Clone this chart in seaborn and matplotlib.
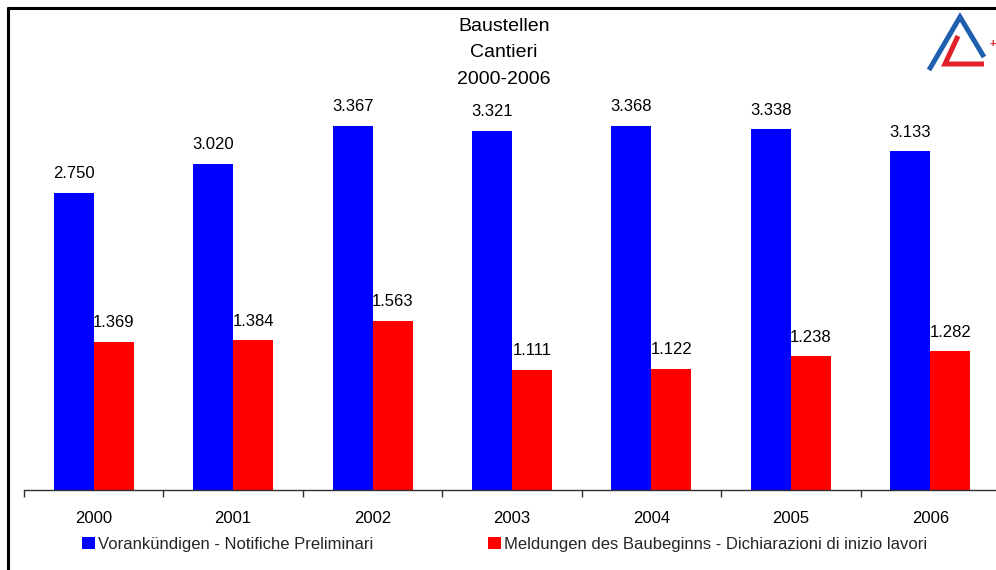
import matplotlib
matplotlib.use("Agg")
import matplotlib.pyplot as plt
from matplotlib.lines import Line2D
import pandas as pd
import seaborn as sns

# ------------------------------------------------------------------ #
# Data                                                                 #
# ------------------------------------------------------------------ #
YEARS = ["2000", "2001", "2002", "2003", "2004", "2005", "2006"]
VORANKUENDIGEN = [2750, 3020, 3367, 3321, 3368, 3338, 3133]
MELDUNGEN = [1369, 1384, 1563, 1111, 1122, 1238, 1282]

SERIES = [
    "Vorankündigen - Notifiche Preliminari",
    "Meldungen des Baubeginns - Dichiarazioni di inizio lavori",
]
COLORS = ["#0000FF", "#FF0000"]
TITLE_LINES = ["Baustellen", "Cantieri", "2000-2006"]

sns.set_theme(style="white")
plt.rcParams["font.family"] = ["Liberation Sans", "DejaVu Sans"]

df = pd.DataFrame({
    "year": YEARS * 2,
    "value": VORANKUENDIGEN + MELDUNGEN,
    "series": [SERIES[0]] * len(YEARS) + [SERIES[1]] * len(YEARS),
})

W, H = 996, 570
fig = plt.figure(figsize=(W / 100, H / 100), dpi=100)
fig.patch.set_facecolor("white")

# axes in pixel terms: left 24, bottom axis line at y=490, top at y=80
ax_left, ax_right, ax_bottom, ax_top = 24, 1000, 490, 80
ax = fig.add_axes([ax_left / W, 1 - ax_bottom / H,
                   (ax_right - ax_left) / W, (ax_bottom - ax_top) / H])

sns.barplot(
    data=df, x="year", y="value", hue="series", hue_order=SERIES,
    palette=COLORS, width=0.574, gap=0, linewidth=0, saturation=1,
    ax=ax, errorbar=None,
)
handles, labels = ax.get_legend_handles_labels()
ax.get_legend().remove()

ax.set_xlim(-0.5, len(YEARS) - 0.5)
ax.set_ylim(0, 3793)
ax.set_xlabel("")
ax.set_ylabel("")
ax.set_yticks([])
for side in ["top", "right", "left"]:
    ax.spines[side].set_visible(False)
ax.spines["bottom"].set_color("#303030")
ax.spines["bottom"].set_linewidth(1)

# year labels at centres, ticks at group boundaries
ax.set_xticks(range(len(YEARS)))
ax.set_xticklabels(YEARS, fontsize=12, color="black")
ax.tick_params(axis="x", which="major", length=0, pad=15)
ax.set_xticks([i - 0.5 for i in range(len(YEARS) + 1)], minor=True)
ax.tick_params(axis="x", which="minor", length=5, width=1, color="#303030",
               direction="out", bottom=True)

# value labels
for container in ax.containers:
    for bar in container:
        v = bar.get_height()
        ax.annotate(
            f"{int(round(v)):,}".replace(",", "."),
            (bar.get_x() + bar.get_width() / 2, v),
            xytext=(0, 10.5), textcoords="offset points",
            ha="center", va="baseline", fontsize=12, color="black",
        )

# title, one line at a time (baselines)
for line, base in zip(TITLE_LINES, [31, 57, 84]):
    fig.text(504 / W, 1 - base / H, line, ha="center", va="baseline",
             fontsize=14, color="black")

fig.legend(
    handles, labels, loc="center left", bbox_to_anchor=(82 / W, 1 - 544 / H),
    ncol=2, frameon=False, fontsize=12, handlelength=0.75, handleheight=0.75,
    handletextpad=0.2, columnspacing=6.9, borderpad=0, borderaxespad=0,
)

# outer frame (left and top edges)
fig.add_artist(Line2D([8 / W, 8 / W], [0, 1 - 8 / H], color="black", lw=2.2,
                      transform=fig.transFigure))
fig.add_artist(Line2D([8 / W, 1], [1 - 8 / H, 1 - 8 / H], color="black", lw=2.2,
                      transform=fig.transFigure))

# small logo in the top-right corner
def px(pts):
    return [p[0] / W for p in pts], [1 - p[1] / H for p in pts]

bx, by = px([(929, 70), (960, 17), (984, 57)])
fig.add_artist(Line2D(bx, by, color="#1F5FB0", lw=3.6, solid_capstyle="butt",
                      solid_joinstyle="miter", transform=fig.transFigure))
rx, ry = px([(958, 36), (945, 64), (984, 64)])
fig.add_artist(Line2D(rx, ry, color="#E0202A", lw=3.6, solid_capstyle="butt",
                      solid_joinstyle="miter", transform=fig.transFigure))
fig.text(989 / W, 1 - 44 / H, "+", color="#E0202A", fontsize=8,
         ha="left", va="center", fontweight="bold")

fig.savefig("out.png", dpi=100)
